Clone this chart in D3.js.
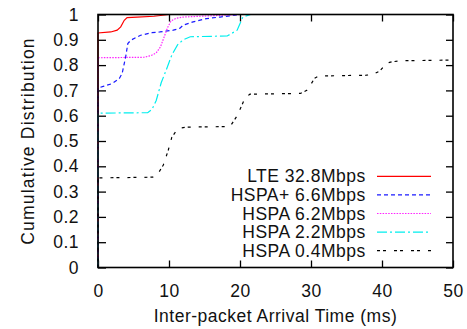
<!DOCTYPE html>
<html>
<head>
<meta charset="utf-8">
<script src="https://cdn.jsdelivr.net/npm/d3@7"></script>
<style>
  body { margin: 0; background: #fff; }
  text { font-family: 'Liberation Sans', Arial, sans-serif; }
</style>
</head>
<body>
<div id="chart"></div>
<script>
// series values (ms, cumulative fraction)
const lteX = [0, 0, 1.8, 2.7, 3.2, 3.7, 4.1, 5.5, 7.9, 10, 50];
const lteY = [0, 0.927, 0.931, 0.938, 0.951, 0.977, 0.988, 0.99, 0.993, 1, 1];

const hspaPlusX = [0, 0, 0.85, 2, 3, 3.4, 3.9, 4.2, 4.6, 6, 7.6, 8.7, 10.6, 11.5, 12, 13.4, 15.3, 17.2, 20, 50];
const hspaPlusY = [0, 0.709, 0.717, 0.727, 0.747, 0.767, 0.833, 0.885, 0.898, 0.918, 0.928, 0.931, 0.938, 0.945, 0.958, 0.971, 0.984, 0.99, 1, 1];

const hspa62X = [0, 0, 6.5, 7.5, 8.2, 8.8, 9.3, 9.8, 10.3, 11, 12, 16, 20, 50];
const hspa62Y = [0, 0.829, 0.831, 0.838, 0.848, 0.872, 0.91, 0.948, 0.975, 0.985, 0.99, 0.995, 1, 1];

const hspa22X = [0, 0, 7, 7.6, 8.2, 8.9, 9.6, 10.4, 11.2, 12, 13, 18.2, 19.6, 20.4, 21.5, 50];
const hspa22Y = [0, 0.61, 0.612, 0.625, 0.66, 0.73, 0.78, 0.84, 0.88, 0.9, 0.912, 0.915, 0.938, 0.99, 1, 1];

const hspa04X = [0, 0, 7.7, 8.5, 9.2, 9.9, 10.4, 10.9, 11.5, 12.5, 18.6, 19.6, 20, 20.7, 21.4, 28.5, 29.4, 29.9, 30.5, 31.1, 37.8, 38.7, 39.7, 40.7, 41.4, 42.5, 50];
const hspa04Y = [0, 0.354, 0.357, 0.373, 0.405, 0.464, 0.515, 0.535, 0.551, 0.555, 0.557, 0.6, 0.625, 0.67, 0.685, 0.688, 0.7, 0.72, 0.748, 0.757, 0.76, 0.763, 0.777, 0.808, 0.813, 0.817, 0.82];

const seriesNames = ['LTE 32.8Mbps', 'HSPA+ 6.6Mbps', 'HSPA 6.2Mbps', 'HSPA 2.2Mbps', 'HSPA 0.4Mbps'];
const xTicks = [0, 10, 20, 30, 40, 50];
const yTicks = [0, 0.1, 0.2, 0.3, 0.4, 0.5, 0.6, 0.7, 0.8, 0.9, 1];

const series = [
  { name: seriesNames[0], xs: lteX, ys: lteY, color: '#ff0000', dash: null },
  { name: seriesNames[1], xs: hspaPlusX, ys: hspaPlusY, color: '#1a1aff', dash: '4,3' },
  { name: seriesNames[2], xs: hspa62X, ys: hspa62Y, color: '#ff22ff', dash: '1.5,1.3' },
  { name: seriesNames[3], xs: hspa22X, ys: hspa22Y, color: '#00eeee', dash: '10,3,2,3' },
  { name: seriesNames[4], xs: hspa04X, ys: hspa04Y, color: '#000000', dash: '3,3,3,8' }
];

const W = 467, H = 329;
const margin = { top: 14.5, right: 14, bottom: 61.5, left: 98 };
const width = W - margin.left - margin.right;
const height = H - margin.top - margin.bottom;
const fontSize = '17.5px';

const x = d3.scaleLinear().domain([0, 50]).range([0, width]);
const y = d3.scaleLinear().domain([0, 1]).range([height, 0]);

const svg = d3.select('#chart')
  .append('svg')
  .attr('width', W)
  .attr('height', H)
  .append('g')
  .attr('transform', `translate(${margin.left}, ${margin.top})`);

const fmtY = (d) => (d === 0 || d === 1 ? String(d) : d3.format('.1f')(d));

// bottom axis: inward ticks, labels below
svg.append('g')
  .attr('transform', `translate(0,${height})`)
  .call(d3.axisBottom(x).tickValues(xTicks).tickSize(-7).tickPadding(17).tickFormat(d3.format('d')))
  .call((g) => g.select('.domain').remove());

// top axis mirror ticks
svg.append('g')
  .call(d3.axisTop(x).tickValues(xTicks).tickSize(-7).tickFormat(''))
  .call((g) => g.select('.domain').remove());

// left axis
svg.append('g')
  .call(d3.axisLeft(y).tickValues(yTicks).tickSize(-8).tickPadding(19).tickFormat(fmtY))
  .call((g) => g.select('.domain').remove());

// right axis mirror ticks
svg.append('g')
  .attr('transform', `translate(${width},0)`)
  .call(d3.axisRight(y).tickValues(yTicks).tickSize(-7).tickFormat(''))
  .call((g) => g.select('.domain').remove());

svg.selectAll('.tick line').attr('stroke', '#000').attr('stroke-width', 1.3);
svg.selectAll('.tick text')
  .attr('fill', '#111')
  .style('font-size', fontSize)
  .style('letter-spacing', '0.5px')
  .style('font-family', "'Liberation Sans', Arial, sans-serif");

// curves
const line = d3.line()
  .x((d) => x(d[0]))
  .y((d) => y(d[1]));

series.forEach((s) => {
  const pts = s.xs.map((v, i) => [v, s.ys[i]]);
  svg.append('path')
    .datum(pts)
    .attr('fill', 'none')
    .attr('stroke', s.color)
    .attr('stroke-width', 1.2)
    .attr('stroke-dasharray', s.dash)
    .attr('d', line);
});

// frame
svg.append('rect')
  .attr('width', width)
  .attr('height', height)
  .attr('fill', 'none')
  .attr('stroke', '#000')
  .attr('stroke-width', 1.6);

// legend
const legend = svg.append('g');
series.forEach((s, i) => {
  const cy = 176.3 - margin.top + i * 18.6;
  legend.append('text')
    .attr('x', 365.7 - margin.left)
    .attr('y', cy)
    .attr('dy', '0.35em')
    .attr('text-anchor', 'end')
    .style('font-size', fontSize)
    .style('letter-spacing', '0.5px')
    .attr('fill', '#111')
    .text(s.name);
  legend.append('line')
    .attr('x1', 377 - margin.left)
    .attr('x2', 431 - margin.left)
    .attr('y1', cy)
    .attr('y2', cy)
    .attr('stroke', s.color)
    .attr('stroke-width', 1.2)
    .attr('stroke-dasharray', s.dash);
});

// axis titles
svg.append('text')
  .attr('x', width / 2)
  .attr('y', 322 - margin.top)
  .attr('text-anchor', 'middle')
  .style('font-size', fontSize)
  .style('letter-spacing', '0.5px')
  .attr('fill', '#111')
  .text('Inter-packet Arrival Time (ms)');

svg.append('text')
  .attr('transform', 'rotate(-90)')
  .attr('x', -height / 2)
  .attr('y', 33.5 - margin.left)
  .attr('text-anchor', 'middle')
  .style('font-size', fontSize)
  .style('letter-spacing', '1.2px')
  .attr('fill', '#111')
  .text('Cumulative Distribution');
</script>
</body>
</html>
